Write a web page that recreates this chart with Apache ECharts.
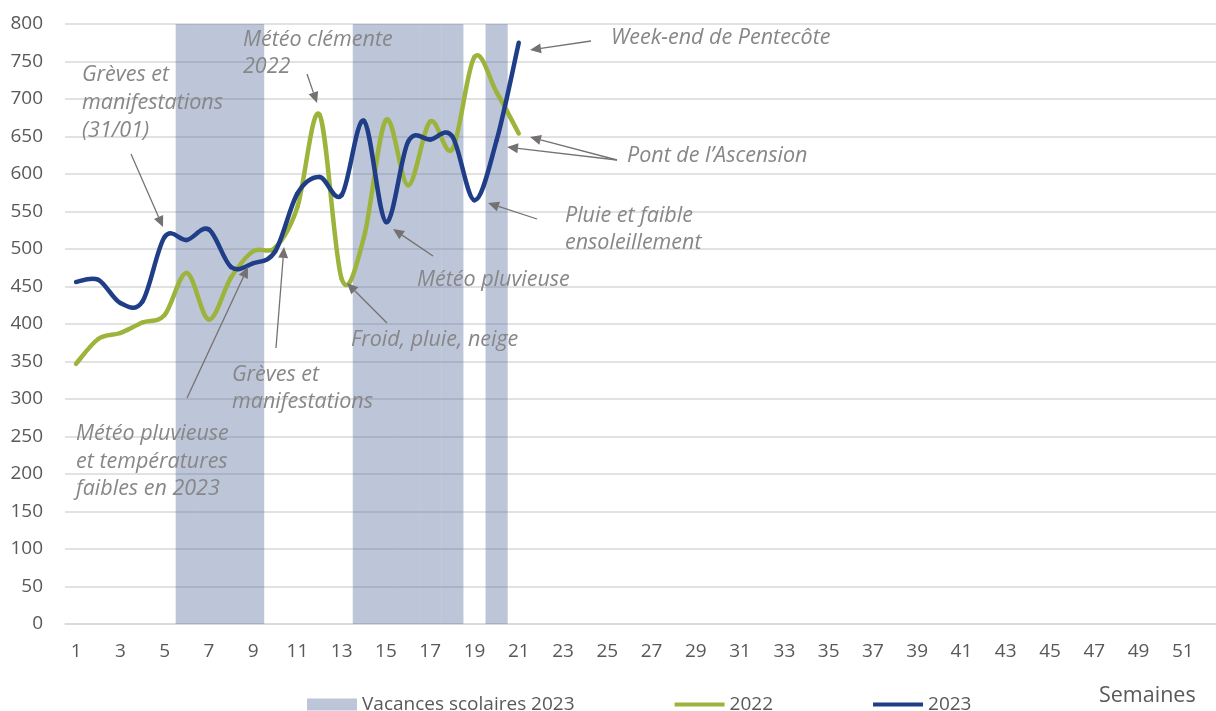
<!DOCTYPE html>
<html>
<head>
<meta charset="utf-8">
<script src="https://cdn.jsdelivr.net/npm/echarts@6/dist/echarts.min.js"></script>
<style>
html,body{margin:0;padding:0;background:#fff;}
#chart{width:1216px;height:711px;}
</style>
</head>
<body>
<div id="chart"></div>
<script>
// ---- Data ----
const weeks = Array.from({length: 52}, (_, i) => String(i + 1));
const vacationWeeks2023 = [6, 7, 8, 9, 14, 15, 16, 17, 18, 20];
const vacationHeight = 800;
const values2022 = [347, 380, 388, 402, 412, 468, 406, 462, 497, 502, 556, 679, 460, 515, 672, 585, 670, 633, 756, 709, 654];
const values2023 = [456, 459, 428, 430, 516, 512, 526, 476, 481, 497, 574, 596, 572, 671, 536, 643, 646, 650, 565, 645, 775];
const yTicks = {min: 0, max: 800, interval: 50};

const vacationData = weeks.map((w, i) => vacationWeeks2023.includes(i + 1) ? vacationHeight : '-');

// ---- Annotations (text + arrows) ----
const notes = [
  {lines: ['Grèves et', 'manifestations', '(31/01)'], x: 82, y: 75, dy: 28},
  {lines: ['Météo clémente', '2022'], x: 243, y: 40, dy: 27},
  {lines: ['Week-end de Pentecôte'], x: 611, y: 38, dy: 27},
  {lines: ['Pont de l’Ascension'], x: 627, y: 156, dy: 27},
  {lines: ['Pluie et faible', 'ensoleillement'], x: 565, y: 216, dy: 27},
  {lines: ['Météo pluvieuse'], x: 417, y: 280, dy: 27},
  {lines: ['Froid, pluie, neige'], x: 351, y: 340, dy: 27},
  {lines: ['Grèves et', 'manifestations'], x: 232, y: 375, dy: 27},
  {lines: ['Météo pluvieuse', 'et températures', 'faibles en 2023'], x: 76, y: 434, dy: 27.5}
];
const arrows = [
  [131, 154, 163, 227],
  [307, 74, 317, 103],
  [591, 41, 530, 50],
  [617, 160, 530, 137],
  [617, 160, 507, 147],
  [537, 219, 488, 203],
  [433, 256, 393, 229],
  [387, 323, 347, 283],
  [276, 348, 284, 247],
  [187, 398, 248, 267]
];

const annColor = '#878787';
const arrowColor = '#767171';
const graphics = [];
notes.forEach(n => {
  n.lines.forEach((t, k) => {
    graphics.push({
      type: 'text', x: n.x, y: n.y + k * n.dy, z: 100,
      style: {text: t, fill: annColor, font: 'italic 21.5px "Open Sans"', textAlign: 'left', textVerticalAlign: 'middle'}
    });
  });
});
arrows.forEach(a => {
  const [x1, y1, x2, y2] = a;
  const ang = Math.atan2(y2 - y1, x2 - x1);
  const L = 11, W = 5;
  const bx = x2 - L * Math.cos(ang), by = y2 - L * Math.sin(ang);
  const px = -Math.sin(ang) * W, py = Math.cos(ang) * W;
  graphics.push({
    type: 'line', z: 100,
    shape: {x1: x1, y1: y1, x2: bx, y2: by},
    style: {stroke: arrowColor, lineWidth: 1.3}
  });
  graphics.push({
    type: 'polygon', z: 100,
    shape: {points: [[x2, y2], [bx + px, by + py], [bx - px, by - py]]},
    style: {fill: arrowColor}
  });
});
graphics.push({
  type: 'text', x: 1099, y: 696, z: 100,
  style: {text: 'Semaines', fill: '#595959', font: '21.5px "Open Sans"', textAlign: 'left', textVerticalAlign: 'middle'}
});

// Smoothed line (Bezier through the data points, Excel-like), drawn via the axes' scales
function smoothLine(name, values, color, z) {
  const n = values.length;
  return {
    name: name, type: 'custom', z: z,
    data: values.map((v, i) => [i, v]),
    encode: {x: 0, y: 1},
    itemStyle: {color: color},
    renderItem: function (params, api) {
      const i = params.dataIndex;
      if (i >= n - 1) return null;
      const pt = k => {
        const kk = Math.max(0, Math.min(n - 1, k));
        return api.coord([kk, values[kk]]);
      };
      const p0 = pt(i - 1), p1 = pt(i), p2 = pt(i + 1), p3 = pt(i + 2);
      const t = 1 / 6;
      return {
        type: 'bezierCurve',
        shape: {
          x1: p1[0], y1: p1[1], x2: p2[0], y2: p2[1],
          cpx1: p1[0] + (p2[0] - p0[0]) * t, cpy1: p1[1] + (p2[1] - p0[1]) * t,
          cpx2: p2[0] - (p3[0] - p1[0]) * t, cpy2: p2[1] - (p3[1] - p1[1]) * t
        },
        style: {stroke: color, fill: 'none', lineWidth: 4.5, lineCap: 'round'}
      };
    }
  };
}

const chart = echarts.init(document.getElementById('chart'), null, {renderer: 'canvas'});
chart.setOption({
  animation: false,
  backgroundColor: '#ffffff',
  textStyle: {fontFamily: '"Open Sans"'},
  grid: {left: 65, top: 24, width: 1160, height: 600, containLabel: false},
  legend: {
    data: [
      {name: 'Vacances scolaires 2023', icon: 'rect'},
      {name: '2022', icon: 'path://M0,0H50V4H0Z'},
      {name: '2023', icon: 'path://M0,0H50V4H0Z'}
    ],
    left: 302, top: 690, padding: 5, itemGap: 100, itemWidth: 50, itemHeight: 12,
    textStyle: {fontSize: 19, color: '#595959', fontFamily: '"Open Sans"'}
  },
  xAxis: {
    type: 'category', data: weeks, boundaryGap: true,
    axisLine: {show: true, lineStyle: {color: '#d9d9d9', width: 1.5}},
    axisTick: {show: false},
    axisLabel: {interval: 1, color: '#595959', fontSize: 19, margin: 18}
  },
  yAxis: {
    type: 'value', min: yTicks.min, max: yTicks.max, interval: yTicks.interval,
    axisLine: {show: false}, axisTick: {show: false},
    axisLabel: {color: '#595959', fontSize: 19, margin: 22},
    splitLine: {lineStyle: {color: '#d9d9d9', width: 1.5}}
  },
  series: [
    {
      name: 'Vacances scolaires 2023', type: 'bar', data: vacationData,
      barWidth: '100%', barCategoryGap: '0%',
      itemStyle: {color: 'rgba(90,111,160,0.4)'}, z: 1
    },
    smoothLine('2022', values2022, '#9db43c', 3),
    smoothLine('2023', values2023, '#1f3e87', 4)
  ],
  graphic: graphics
});
</script>
</body>
</html>
